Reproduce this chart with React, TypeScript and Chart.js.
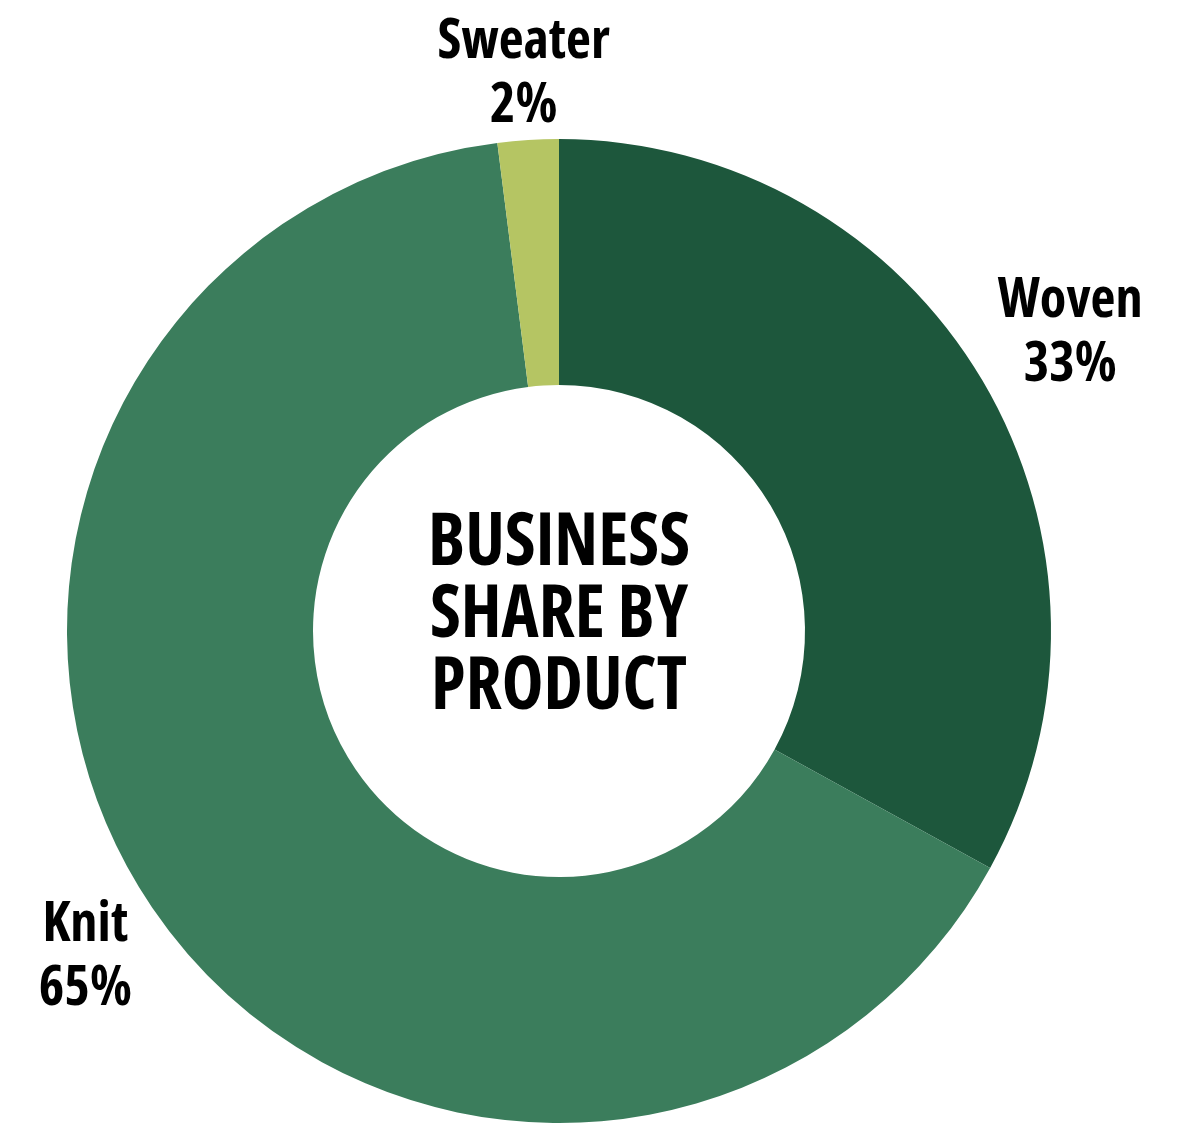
import React, { useEffect, useRef } from "react";
import { Chart, registerables } from "chart.js";

Chart.register(...registerables);

const categories = ["Woven", "Knit", "Sweater"];
const shares = [33, 65, 2];
const shareLabels = ["33%", "65%", "2%"];
const sliceColors = ["#1d573c", "#3b7d5c", "#b5c563"];
const centerLines = ["BUSINESS", "SHARE BY", "PRODUCT"];

const FONT = "'Open Sans', 'DejaVu Sans Condensed', sans-serif";

function setFont(ctx: any, size: number) {
  ctx.font = `bold ${size}px ${FONT}`;
  try {
    ctx.fontStretch = "condensed";
  } catch (e) {}
}

const labelPlugin = {
  id: "donutLabels",
  afterDraw(chart: any) {
    const ctx = chart.ctx as CanvasRenderingContext2D;
    const meta = chart.getDatasetMeta(0);
    const labelSize = 56;
    const labelGap = 64;
    const capH = 40;
    const gap = 13;
    ctx.save();
    ctx.fillStyle = "#000";
    ctx.textAlign = "center";
    ctx.textBaseline = "alphabetic";
    setFont(ctx, labelSize);
    // horizontal squeeze so that the lettering has a condensed proportion
    const sx = 145 / ctx.measureText("Woven").width;
    meta.data.forEach((arc: any, i: number) => {
      const p = arc.getProps(["x", "y", "startAngle", "endAngle", "outerRadius"], true);
      const a = (p.startAngle + p.endAngle) / 2;
      const dx = Math.cos(a);
      const dy = Math.sin(a);
      const lines = [categories[i], shareLabels[i]];
      const w = Math.max(...lines.map((t) => ctx.measureText(t).width)) * sx;
      const h = labelGap + capH;
      const r = p.outerRadius + gap + Math.abs(dx) * w / 2 + Math.abs(dy) * h / 2;
      const cx = p.x + dx * r;
      const cy = p.y + dy * r;
      lines.forEach((t, j) => {
        const base = cy + (j - 0.5) * labelGap + capH / 2;
        ctx.save();
        ctx.translate(cx, base);
        ctx.scale(sx, 1);
        ctx.fillText(t, 0, 0);
        ctx.restore();
      });
    });

    // centre title
    const arc0 = meta.data[0];
    if (arc0) {
      const cx = arc0.x;
      const cy = arc0.y;
      const size = 73;
      const lineGap = 72;
      const cap = 52;
      const shift = -20;
      setFont(ctx, size);
      const sc = 262 / ctx.measureText("BUSINESS").width;
      centerLines.forEach((t, j) => {
        const base = cy + shift + (j - 1) * lineGap + cap / 2;
        ctx.save();
        ctx.translate(cx, base);
        ctx.scale(sc, 1);
        ctx.fillText(t, 0, 0);
        ctx.restore();
      });
    }
    ctx.restore();
  },
};

export default function App() {
  const canvasRef = useRef<HTMLCanvasElement | null>(null);

  useEffect(() => {
    if (!canvasRef.current) return;
    const chart = new Chart(canvasRef.current, {
      type: "doughnut",
      data: {
        labels: categories,
        datasets: [
          {
            data: shares,
            backgroundColor: sliceColors,
            borderWidth: 0,
          },
        ],
      },
      options: {
        animation: false,
        responsive: true,
        maintainAspectRatio: false,
        cutout: "50%",
        rotation: 0,
        layout: { padding: { left: 66, right: 128, top: 139, bottom: 0 } },
        plugins: {
          legend: { display: false },
          tooltip: { enabled: false },
        },
      },
      plugins: [labelPlugin],
    });
    return () => chart.destroy();
  }, []);

  return (
    <div
      style={{
        position: "fixed",
        left: 0,
        top: 0,
        width: "1180px",
        height: "1123px",
        background: "#fff",
      }}
    >
      <canvas ref={canvasRef} />
    </div>
  );
}
